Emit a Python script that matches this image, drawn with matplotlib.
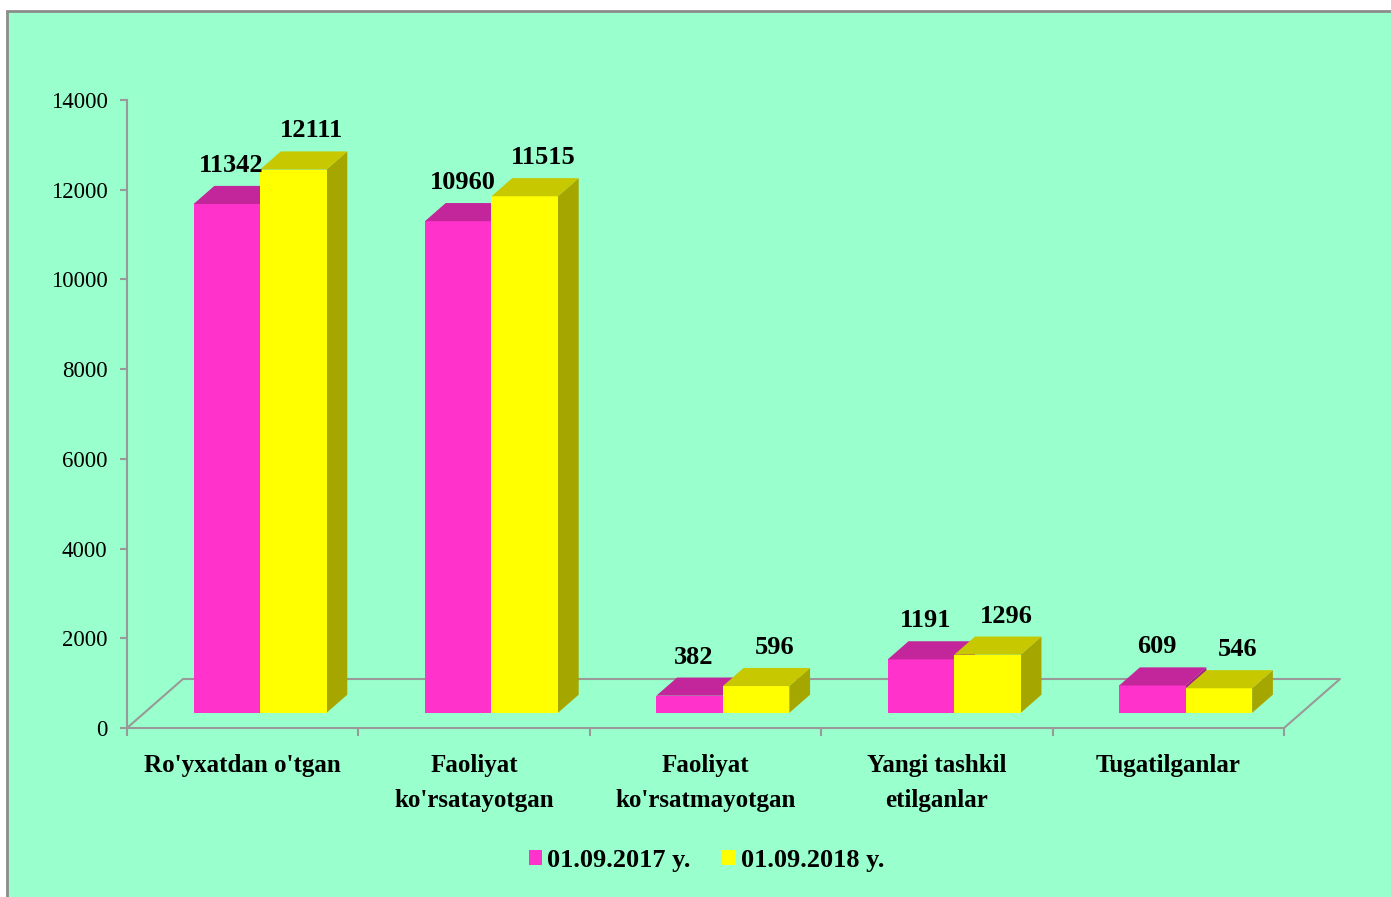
import matplotlib.pyplot as plt
from matplotlib.patches import Polygon, Rectangle, Patch
import numpy as np

plt.rcParams['font.family'] = ['Liberation Serif', 'DejaVu Serif']

# data
categories = ["Ro'yxatdan o'tgan", "Faoliyat\nko'rsatayotgan", "Faoliyat\nko'rsatmayotgan",
              "Yangi tashkil\netilganlar", "Tugatilganlar"]
v2017 = [11342, 10960, 382, 1191, 609]
v2018 = [12111, 11515, 596, 1296, 546]
series_names = ["01.09.2017 y.", "01.09.2018 y."]
yticks = [0, 2000, 4000, 6000, 8000, 10000, 12000, 14000]

bg = '#99FFCC'
grey = '#999999'
front_cols = ['#FF33CC', '#FFFF00']
top_cols = ['#C2269A', '#C8C800']
side_cols = ['#A81E86', '#A6A600']

W, H = 1391, 897
fig = plt.figure(figsize=(W / 100, H / 100), dpi=100)
fig.patch.set_facecolor('white')
fig.patches.append(Rectangle((7 / W, -0.01), 1.0, (H - 11) / H + 0.01, transform=fig.transFigure,
                             facecolor=bg, edgecolor='#8C8C8C', lw=2, zorder=-10))

ax = fig.add_axes([127 / W, 169 / H, 1213 / W, 628 / H])
ax.set_facecolor('none')

# floor depth (in data units)
px_x = 1157 / 5.0          # px per category
px_y = 628 / 14000.0       # px per unit value
dxf = 56 / px_x
dyf = 49 / px_y
ax.set_xlim(-0.5, 4.5 + dxf)
ax.set_ylim(0, 14000)

# floor outline
n = len(categories)
fx = [-0.5, -0.5 + dxf, n - 0.5 + dxf, n - 0.5]
fy = [0, dyf, dyf, 0]
ax.plot(fx, fy, color=grey, lw=1.5, zorder=1, clip_on=False)

# bars
f0, f1 = 0.31, 0.68
w = 66.5 / px_x
ddx = (f1 - f0) * dxf
ddy = (f1 - f0) * dyf
base = f0 * dyf
for s, vals in enumerate([v2017, v2018]):
    for i, v in enumerate(vals):
        c = i + f0 * dxf
        x0 = c - w if s == 0 else c
        x1 = x0 + w
        top = base + v
        ax.add_patch(Polygon([(x1, base), (x1, top), (x1 + ddx, top + ddy), (x1 + ddx, base + ddy)],
                             closed=True, facecolor=side_cols[s], edgecolor='none', zorder=2 + s))
        ax.add_patch(Polygon([(x0, base), (x1, base), (x1, top), (x0, top)],
                             closed=True, facecolor=front_cols[s], edgecolor='none', zorder=2 + s))
        ax.add_patch(Polygon([(x0, top), (x1, top), (x1 + ddx, top + ddy), (x0 + ddx, top + ddy)],
                             closed=True, facecolor=top_cols[s], edgecolor='none', zorder=2 + s))
        lx = (x0 + x1) / 2 + (0.2 if s == 0 else 0.9) * ddx
        ax.text(lx, top + ddy + 200, f"{v}", ha='center', va='bottom', fontsize=19,
                fontweight='bold', zorder=5)

# axes styling
for sp in ['top', 'right']:
    ax.spines[sp].set_visible(False)
ax.spines['left'].set_color(grey)
ax.spines['left'].set_linewidth(1.5)
ax.spines['bottom'].set_color(grey)
ax.spines['bottom'].set_linewidth(1.5)
ax.spines['bottom'].set_bounds(-0.5, n - 0.5)

ax.set_yticks(yticks)
ax.set_yticklabels([str(t) for t in yticks], fontsize=16.5)
ax.tick_params(axis='y', color=grey, width=1.5, length=5, pad=9)

ax.set_xticks(np.arange(n + 1) - 0.5)
ax.set_xticklabels([])
ax.tick_params(axis='x', which='major', color=grey, width=1.5, length=6)
ax.set_xticks(np.arange(n), minor=True)
ax.set_xticklabels(categories, minor=True, fontsize=18, fontweight='bold', linespacing=1.65)
ax.tick_params(axis='x', which='minor', length=0, pad=19)

handles = [Patch(facecolor=front_cols[0]), Patch(facecolor=front_cols[1])]
fig.legend(handles, series_names, loc='center', bbox_to_anchor=(0.508, 0.041), ncol=2,
           frameon=False, prop={'size': 19, 'weight': 'bold'}, handlelength=0.5,
           handleheight=0.5, handletextpad=0.2, columnspacing=1.2)

fig.savefig('out.png', dpi=100, facecolor=fig.get_facecolor())
